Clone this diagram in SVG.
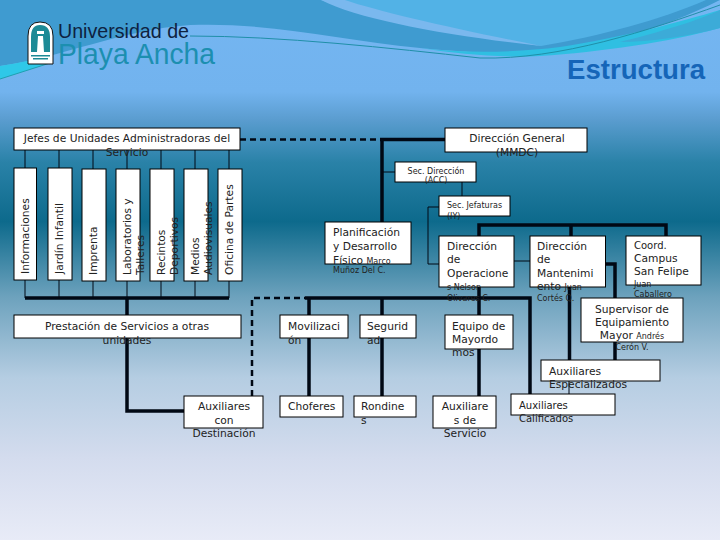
<svg xmlns="http://www.w3.org/2000/svg" width="720" height="540" viewBox="0 0 720 540">
<defs>
<linearGradient id="bg" x1="0" y1="0" x2="0" y2="1">
<stop offset="0" stop-color="#74b6f2"/>
<stop offset="0.17" stop-color="#72b3ee"/>
<stop offset="0.22" stop-color="#5b9dd0"/>
<stop offset="0.3" stop-color="#2a82a8"/>
<stop offset="0.41" stop-color="#0d6a8c"/>
<stop offset="0.55" stop-color="#6da2bd"/>
<stop offset="0.7" stop-color="#b5cde2"/>
<stop offset="0.85" stop-color="#d4dcee"/>
<stop offset="1" stop-color="#e8ebf7"/>
</linearGradient>
</defs>
<style>
text{font-family:"DejaVu Sans","Liberation Sans",sans-serif;fill:#222}
.b{fill:#fff;stroke:#000;stroke-width:1}
.k{fill:none;stroke:#000814;stroke-width:3.5}
.t{fill:none;stroke:#000814;stroke-width:1}
.d{fill:none;stroke:#000814;stroke-width:2.5;stroke-dasharray:6 4}
.l{font-size:10.700px}
.m{font-size:10px}
.s{font-size:8px}
.c{text-anchor:middle}
</style>
<rect width="720" height="540" fill="url(#bg)"/>
<path d="M0 66C60 58 120 30 190 25C270 22 340 40 420 48C470 53 510 54 540 52C600 46 660 30 720 0H0Z" fill="#3f9bd0"/>
<path d="M321 0C370 18 470 36 541 46C600 36 660 20 706 0Z" fill="#52b2e6"/>
<path d="M321 0C360 20 450 36 541 46C460 30 380 12 345 0Z" fill="#7ab8ee"/>
<path d="M420 48C470 54 520 52 560 47C620 38 680 22 720 10V28C670 42 600 52 540 56C500 58 460 54 420 48Z" fill="#2fbfe2"/>
<path d="M620 42C660 32 700 20 720 10V28C690 36 650 42 620 42Z" fill="#3cabd8"/>
<path d="M190 36C280 36 390 48 480 58C560 60 650 30 720 5" fill="none" stroke="#1f8fa8" stroke-width="1"/>
<path d="M0 66C20 63 40 58 50 56V63L0 79Z" fill="#2fc8e8"/>
<path d="M0 79L50 63" fill="none" stroke="#1fa0b0" stroke-width="1"/>
<g id="logo">
<path d="M28 64V36Q28 22 40 22Q53 22 53 36V64Z" fill="#fff" stroke="#111" stroke-width="1"/>
<path d="M31 52V37Q31 25 40 25Q50 25 50 37V52Z" fill="#1c8a96"/>
<path d="M38 36H43L44 52H37Z" fill="#fff"/>
<rect x="37" y="31" width="7" height="3" fill="#fff"/>
<rect x="31" y="55" width="19" height="1.500" fill="#1c8a96"/>
<rect x="33" y="58" width="15" height="1.500" fill="#1c8a96"/>
<text x="58" y="37.500" font-size="21" textLength="131" lengthAdjust="spacingAndGlyphs" style="font-family:'Liberation Sans',sans-serif;fill:#0e2240">Universidad de</text>
<text x="58" y="64" font-size="29" textLength="157" lengthAdjust="spacingAndGlyphs" style="font-family:'Liberation Sans',sans-serif;fill:#1c8fb0">Playa Ancha</text>
</g>
<text x="567" y="79" font-size="27.600" font-weight="bold" style="font-family:'Liberation Sans',sans-serif;fill:#1565b8">Estructura</text>
<g id="connectors">
<path class="t" d="M25 150V168M59 150V168M93 150V169M127 150V169M161 150V169M195 150V169M229 150V169M25 280V298M59 280V298M93 281V298M127 281V298M161 281V298M195 281V298M229 281V298"/>
<path class="k" d="M25 298H229M127 298V411H184"/>
<path class="d" d="M240 139.500H378"/>
<path class="k" d="M380 139.500H445M382 139.500V222"/>
<path class="t" d="M382 172H395M462 182V196M439 207H428V264H439M514 261H530M569 381V394"/>
<path class="k" d="M479 236V225H666V236M571 225V236M605 264H615V298M615 342V360M569.500 287V360"/>
<path class="d" d="M252 396V298H305"/>
<path class="k" d="M305 298H530V394M309 298V396M382 298V396M479 287V396"/>
</g>
<g id="jefes"><rect class="b" x="14" y="128" width="226" height="22"/><text class="l c" x="127" y="142">Jefes de Unidades Administradoras del</text><text class="l c" x="127" y="156">Servicio</text></g>
<g id="informaciones"><rect class="b" x="14" y="168" width="22.500" height="112"/><text class="l" transform="translate(29 274) rotate(-90)">Informaciones</text></g>
<g id="jardin"><rect class="b" x="48" y="168" width="24" height="112"/><text class="l" transform="translate(63 274) rotate(-90)">Jardín Infantil</text></g>
<g id="imprenta"><rect class="b" x="82" y="169" width="24" height="112"/><text class="l" transform="translate(97 275) rotate(-90)">Imprenta</text></g>
<g id="laboratorios"><rect class="b" x="116" y="169" width="24" height="112"/><text class="l" transform="translate(131 275) rotate(-90)">Laboratorios y</text><text class="l" transform="translate(144 275) rotate(-90)">Talleres</text></g>
<g id="recintos"><rect class="b" x="150" y="169" width="24" height="112"/><text class="l" transform="translate(165 275) rotate(-90)">Recintos</text><text class="l" transform="translate(178 275) rotate(-90)">Deportivos</text></g>
<g id="medios"><rect class="b" x="184" y="169" width="24" height="112"/><text class="l" transform="translate(199 275) rotate(-90)">Medios</text><text class="l" transform="translate(212 275) rotate(-90)">Audiovisuales</text></g>
<g id="oficina"><rect class="b" x="218" y="169" width="24" height="112"/><text class="l" transform="translate(233 275) rotate(-90)">Oficina de Partes</text></g>
<g id="prestacion"><rect class="b" x="14" y="315" width="227" height="23"/><text class="l c" x="127" y="330">Prestación de  Servicios a otras</text><text class="l c" x="127" y="344">unidades</text></g>
<g id="direccion-general"><rect class="b" x="445" y="128" width="142" height="24"/><text class="l c" x="517" y="142">Dirección General</text><text class="l c" x="517" y="156">(MMDC)</text></g>
<g id="sec-direccion"><rect class="b" x="395" y="162" width="81" height="20"/><text class="s c" x="436" y="174">Sec. Dirección</text><text class="s c" x="436" y="183">(ACC)</text></g>
<g id="sec-jefaturas"><rect class="b" x="439" y="196" width="71" height="20"/><text class="s" x="447" y="208">Sec. Jefaturas</text><text class="s" x="447" y="219">(IY)</text></g>
<g id="planificacion"><rect class="b" x="325" y="222" width="86" height="42"/><text class="l" x="333" y="236">Planificación</text><text class="l" x="333" y="250">y Desarrollo</text><text class="l" x="333" y="264">Físico <tspan font-size="8">Marco</tspan></text><text class="s" x="333" y="273">Muñoz Del C.</text></g>
<g id="operaciones"><rect class="b" x="439" y="236" width="75" height="51"/><text class="l" x="447" y="250">Dirección</text><text class="l" x="447" y="263">de</text><text class="l" x="447" y="277">Operacione</text><text class="s" x="447" y="290">s  Nelson</text><text class="s" x="447" y="301">Olivares C.</text></g>
<g id="mantenimiento"><rect class="b" x="530" y="236" width="75.500" height="51"/><text class="l" x="537" y="250">Dirección</text><text class="l" x="537" y="263">de</text><text class="l" x="537" y="277">Mantenimi</text><text class="l" x="537" y="290">ento <tspan font-size="8">Juan</tspan></text><text class="s" x="537" y="301">Cortés Q.</text></g>
<g id="coord"><rect class="b" x="626" y="236" width="75" height="49"/><text class="m" x="634" y="249">Coord.</text><text class="l" x="634" y="262">Campus</text><text class="l" x="634" y="275">San Felipe</text><text class="s" x="634" y="287">Juan</text><text class="s" x="634" y="297">Caballero</text></g>
<g id="supervisor"><rect class="b" x="581" y="298" width="102" height="44"/><text class="l c" x="632" y="313">Supervisor de</text><text class="l c" x="632" y="326">Equipamiento</text><text class="l c" x="632" y="339">Mayor <tspan font-size="8">Andrés</tspan></text><text class="s c" x="632" y="350">Cerón V.</text></g>
<g id="especializados"><rect class="b" x="541" y="360" width="119" height="21"/><text class="l" x="549" y="375">Auxiliares</text><text class="l" x="549" y="388">Especializados</text></g>
<g id="calificados"><rect class="b" x="511" y="394" width="104" height="21"/><text class="m" x="519" y="409">Auxiliares</text><text class="m" x="519" y="422">Calificados</text></g>
<g id="movilizacion"><rect class="b" x="280" y="315" width="68" height="23"/><text class="l" x="288" y="330">Movilizaci</text><text class="l" x="288" y="344">ón</text></g>
<g id="seguridad"><rect class="b" x="360" y="315" width="56" height="23"/><text class="l" x="367" y="330">Segurid</text><text class="l" x="367" y="344">ad</text></g>
<g id="equipo"><rect class="b" x="445" y="315" width="68" height="34"/><text class="l" x="452" y="330">Equipo de</text><text class="l" x="452" y="343">Mayordo</text><text class="l" x="452" y="356">mos</text></g>
<g id="destinacion"><rect class="b" x="184" y="396" width="79" height="32"/><text class="l c" x="224" y="410">Auxiliares</text><text class="l c" x="224" y="424">con</text><text class="l c" x="224" y="437">Destinación</text></g>
<g id="choferes"><rect class="b" x="280" y="396" width="63" height="21"/><text class="l" x="288" y="410">Choferes</text></g>
<g id="rondines"><rect class="b" x="354" y="396" width="62" height="21"/><text class="l" x="361" y="410">Rondine</text><text class="l" x="361" y="424">s</text></g>
<g id="servicio"><rect class="b" x="433" y="396" width="63" height="32"/><text class="l c" x="465" y="410">Auxiliare</text><text class="l c" x="465" y="424">s de</text><text class="l c" x="465" y="437">Servicio</text></g>
</svg>
